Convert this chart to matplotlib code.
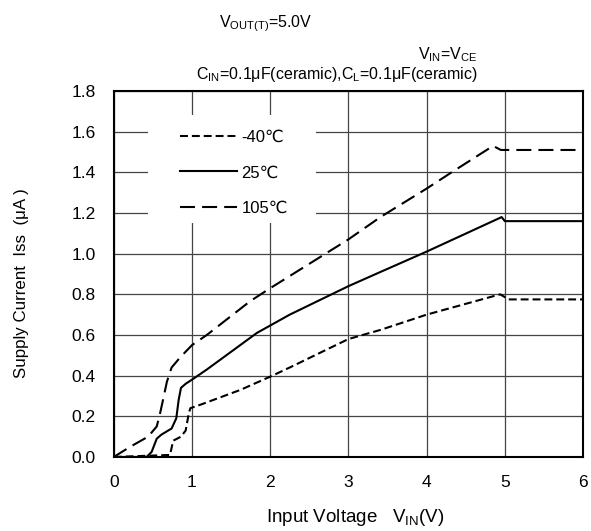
import matplotlib
matplotlib.use("Agg")
import matplotlib.pyplot as plt
from matplotlib.patches import Rectangle

plt.rcParams['font.family'] = ['Liberation Sans', 'DejaVu Sans']
plt.rcParams['mathtext.fontset'] = 'custom'
plt.rcParams['mathtext.rm'] = 'Liberation Sans'

# input voltage (V) / supply current (uA)
x_m40 = [0.0, 0.72, 0.76, 0.86, 0.92, 0.96, 0.98, 1.13, 1.62, 2.0, 2.25, 3.0, 3.41, 4.0, 4.94, 5.05, 6.0]
y_m40 = [0.0, 0.01, 0.08, 0.10, 0.13, 0.215, 0.24, 0.26, 0.33, 0.395, 0.44, 0.58, 0.625, 0.70, 0.80, 0.775, 0.775]

x_25 = [0.0, 0.42, 0.485, 0.55, 0.61, 0.74, 0.80, 0.83, 0.86, 0.92, 1.0, 1.19, 1.83, 2.25, 3.0, 3.41, 4.0, 4.96, 5.0, 6.0]
y_25 = [0.0, 0.0, 0.025, 0.09, 0.11, 0.14, 0.19, 0.28, 0.34, 0.36, 0.38, 0.43, 0.61, 0.70, 0.84, 0.91, 1.01, 1.18, 1.16, 1.16]

x_105 = [0.0, 0.21, 0.44, 0.55, 0.59, 0.63, 0.68, 0.74, 0.85, 1.0, 1.19, 1.74, 2.0, 3.0, 3.41, 4.0, 4.34, 4.85, 4.95, 6.0]
y_105 = [0.0, 0.05, 0.10, 0.15, 0.21, 0.28, 0.37, 0.44, 0.49, 0.55, 0.60, 0.765, 0.83, 1.07, 1.18, 1.32, 1.405, 1.53, 1.51, 1.51]

labels = ['-40\u2103', '25\u2103', '105\u2103']
xticks = [0, 1, 2, 3, 4, 5, 6]
yticks = [0.0, 0.2, 0.4, 0.6, 0.8, 1.0, 1.2, 1.4, 1.6, 1.8]

fig = plt.figure(figsize=(5.91, 5.31), dpi=100)
ax = fig.add_axes([0.1924, 0.1394, 0.7941, 0.6892])

ax.plot(x_m40, y_m40, color='black', lw=1.5, dashes=(3.8, 1.9), label=labels[0], zorder=3)
ax.plot(x_25, y_25, color='black', lw=1.5, label=labels[1], zorder=3)
ax.plot(x_105, y_105, color='black', lw=1.5, dashes=(7.2, 3.4), label=labels[2], zorder=3)

ax.set_xlim(0, 6)
ax.set_ylim(0, 1.8)
ax.set_xticks(xticks)
ax.set_yticks(yticks)
ax.set_yticklabels([f'{v:.1f}' for v in yticks])
ax.tick_params(length=0, labelsize=12.5, pad=13)
ax.grid(True, color='#444444', lw=0.9)
ax.set_axisbelow(True)
for s in ax.spines.values():
    s.set_linewidth(1.5)

# white block behind the legend that breaks the grid lines
ax.add_patch(Rectangle((0.44, 1.153), 2.15, 0.527, facecolor='white',
                       edgecolor='none', zorder=1.5))

leg = ax.legend(loc='upper left', bbox_to_anchor=(0.141, 0.895), frameon=False,
                fontsize=12, handlelength=3.4, labelspacing=1.25,
                borderpad=0, handletextpad=0.3, borderaxespad=0)

fig.text(0.601, 0.026, 'Input Voltage   V$_{\\mathrm{IN}}$(V)', fontsize=13.5,
         ha='center', va='center')
fig.text(0.037, 0.467, 'Supply Current  Iss  (\u03bcA )', fontsize=12.2,
         ha='center', va='center', rotation=90)

fig.text(0.449, 0.956, 'V$_{\\mathrm{OUT(T)}}$=5.0V', fontsize=11.5, ha='center', va='center')
fig.text(0.809, 0.897, 'V$_{\\mathrm{IN}}$=V$_{\\mathrm{CE}}$', fontsize=11.5, ha='right', va='center')
fig.text(0.809, 0.859, 'C$_{\\mathrm{IN}}$=0.1\u03bcF(ceramic),C$_{\\mathrm{L}}$=0.1\u03bcF(ceramic)',
         fontsize=11.5, ha='right', va='center')

fig.savefig('out.png', dpi=100)
